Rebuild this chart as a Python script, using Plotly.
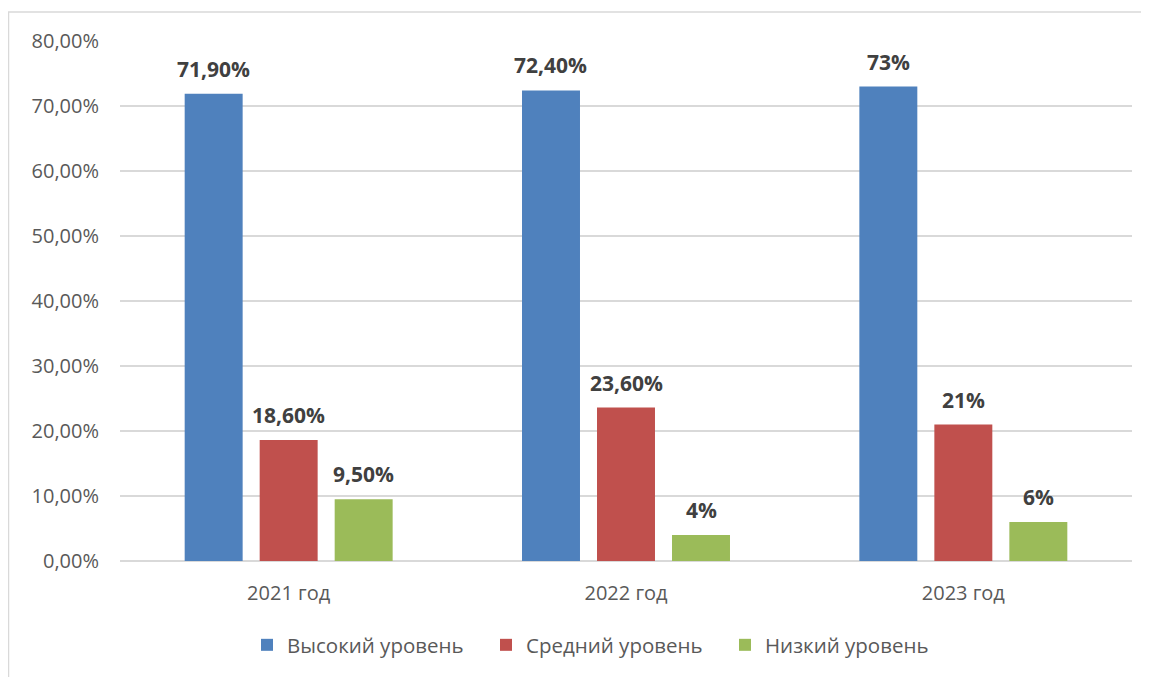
import plotly.graph_objects as go

categories = ["2021 год", "2022 год", "2023 год"]
series_names = ["Высокий уровень", "Средний уровень", "Низкий уровень"]
high = [0.719, 0.724, 0.73]
mid = [0.186, 0.236, 0.21]
low = [0.095, 0.04, 0.06]
high_labels = ["71,90%", "72,40%", "73%"]
mid_labels = ["18,60%", "23,60%", "21%"]
low_labels = ["9,50%", "4%", "6%"]
colors = ["#4F81BD", "#C0504D", "#9BBB59"]

OFF = 8
W, H = 1149 - OFF, 677 - OFF
L, T = 120 - OFF, 41 - OFF
PR, PB = 1132 - OFF, 561 - OFF
R, B = W - PR, H - PB
pw, ph = PR - L, PB - T

font = "Open Sans"
fig = go.Figure()
annotations = []
slot = pw / len(categories) * (1 - 0.333) / 3
for i, (name, vals, labs, c) in enumerate(zip(series_names, [high, mid, low],
                                              [high_labels, mid_labels, low_labels], colors)):
    fig.add_trace(go.Bar(
        name=name, x=categories, y=vals,
        marker=dict(color=c, line=dict(width=0)),
    ))
    for cat, v, s in zip(categories, vals, labs):
        annotations.append(dict(
            x=cat, y=v, xref="x", yref="y", text=s, showarrow=False,
            xshift=(i - 1) * slot, yshift=25, yanchor="middle",
            font=dict(family=font, size=21, color="#404040", weight="bold"),
        ))

def px_x(p):
    return (p - OFF - L) / pw

def px_y(p):
    return (PB - (p - OFF)) / ph

fig.update_layout(
    width=W, height=H,
    margin=dict(l=L, r=R, t=T, b=B),
    paper_bgcolor="white", plot_bgcolor="white",
    barmode="group", bargap=0.333, bargroupgap=0.227,
    separators=", ",
    font=dict(family=font, color="#595959"),
    showlegend=True,
    legend=dict(orientation="h", x=px_x(247), xanchor="left", y=px_y(645), yanchor="middle",
                font=dict(family=font, size=20.5, color="#595959"),
                itemwidth=30, traceorder="normal", entrywidth=194, entrywidthmode="pixels"),
    xaxis=dict(showline=False, ticks="", tickfont=dict(size=20, color="#595959"),
               ticklabelstandoff=18),
    yaxis=dict(range=[0, 0.8], dtick=0.1, tickformat=".2%", showgrid=True,
               gridcolor="#D9D9D9", gridwidth=1.5, zeroline=True, zerolinecolor="#D9D9D9",
               zerolinewidth=1.5, ticks="", tickfont=dict(size=20, color="#595959"),
               ticklabelstandoff=20),
    annotations=annotations,
    shapes=[
        dict(type="line", xref="paper", yref="paper", x0=px_x(8), x1=px_x(1200),
             y0=px_y(12), y1=px_y(12), line=dict(color="#D9D9D9", width=1.5)),
        dict(type="line", xref="paper", yref="paper", x0=px_x(8.5), x1=px_x(8.5),
             y0=px_y(12), y1=px_y(700), line=dict(color="#D9D9D9", width=1.5)),
    ],
)
fig.write_html("out.html")
